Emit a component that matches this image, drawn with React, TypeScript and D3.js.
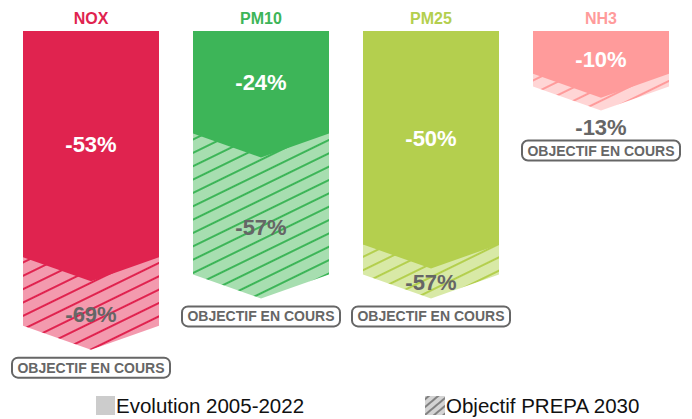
import { useEffect, useRef } from "react";
import * as d3 from "d3";

// données
const polluants = ["NOX", "PM10", "PM25", "NH3"];
const evolution = [-53, -24, -50, -10];
const objectif = [-69, -57, -57, -13];
const couleurs = ["#e0234f", "#3db558", "#b4cf4e", "#ff9b9b"];
const couleursClaires = ["#f39aae", "#a7deb0", "#d8e9a6", "#ffd5d5"];
const legende = ["Evolution 2005-2022", "Objectif PREPA 2030"];
const badge = "OBJECTIF EN COURS";

const W = 692;
const H = 419;
const FONT = "'Liberation Sans', Arial, sans-serif";

const App: React.FC = () => {
  const svgRef = useRef<SVGSVGElement | null>(null);

  useEffect(() => {
    if (!svgRef.current) return;
    const svg = d3.select(svgRef.current);
    svg.selectAll("*").remove();

    const top = 31;
    const pointe = 24;

    const x = d3
      .scaleBand<string>()
      .domain(polluants)
      .range([6, 686])
      .paddingInner(0.2)
      .paddingOuter(0.1);

    const y = d3.scaleLinear().domain([0, 100]).range([top, top + 427]);

    const defs = svg.append("defs");

    // motifs hachurés
    polluants.forEach((p, i) => {
      const pat = defs
        .append("pattern")
        .attr("id", `hatch-${i}`)
        .attr("patternUnits", "userSpaceOnUse")
        .attr("width", 12)
        .attr("height", 12)
        .attr("patternTransform", "rotate(-26)");
      pat.append("rect").attr("width", 12).attr("height", 12).attr("fill", couleursClaires[i]);
      pat
        .append("line")
        .attr("x1", 0)
        .attr("x2", 12)
        .attr("y1", 6)
        .attr("y2", 6)
        .attr("stroke", couleurs[i])
        .attr("stroke-width", 2);
    });

    const patLeg = defs
      .append("pattern")
      .attr("id", "hatch-leg")
      .attr("patternUnits", "userSpaceOnUse")
      .attr("width", 6)
      .attr("height", 6)
      .attr("patternTransform", "rotate(-40)");
    patLeg.append("rect").attr("width", 6).attr("height", 6).attr("fill", "#d4d4d4");
    patLeg
      .append("line")
      .attr("x1", 0)
      .attr("x2", 6)
      .attr("y1", 3)
      .attr("y2", 3)
      .attr("stroke", "#555")
      .attr("stroke-width", 1.3);

    const fleche = (x0: number, x1: number, bord: number) => {
      const cx = (x0 + x1) / 2;
      return `M${x0},${top}L${x1},${top}L${x1},${bord}L${cx},${bord + pointe}L${x0},${bord}Z`;
    };

    polluants.forEach((p, i) => {
      const x0 = x(p) as number;
      const x1 = x0 + x.bandwidth();
      const cx = (x0 + x1) / 2;
      const bordEvo = y(Math.abs(evolution[i]));
      const bordObj = y(Math.abs(objectif[i]));
      const g = svg.append("g");

      // titre
      g.append("text")
        .attr("x", cx)
        .attr("y", 24)
        .attr("text-anchor", "middle")
        .attr("font-family", FONT)
        .attr("font-weight", "bold")
        .attr("font-size", 16)
        .attr("fill", couleurs[i])
        .text(p);

      // objectif (hachuré)
      g.append("path").attr("d", fleche(x0, x1, bordObj)).attr("fill", `url(#hatch-${i})`);
      // évolution
      g.append("path").attr("d", fleche(x0, x1, bordEvo)).attr("fill", couleurs[i]);

      // valeur évolution
      const cEvo = Math.max((top + bordEvo) / 2, top + 28);
      g.append("text")
        .attr("x", cx)
        .attr("y", cEvo + 8)
        .attr("text-anchor", "middle")
        .attr("font-family", FONT)
        .attr("font-weight", "bold")
        .attr("font-size", 22)
        .attr("fill", "#fff")
        .text(`${evolution[i]}%`);

      // valeur objectif
      const tipEvo = bordEvo + pointe;
      const tipObj = bordObj + pointe;
      const dedans = tipObj - tipEvo >= 25;
      const cObj = dedans ? (tipEvo + tipObj) / 2 - 1 : tipObj + 16;
      g.append("text")
        .attr("x", cx)
        .attr("y", cObj + 8)
        .attr("text-anchor", "middle")
        .attr("font-family", FONT)
        .attr("font-weight", "bold")
        .attr("font-size", 22)
        .attr("fill", "#666")
        .text(`${objectif[i]}%`);

      // badge
      const bTop = dedans ? tipObj + 8 : cObj + 14;
      g.append("rect")
        .attr("x", cx - 79)
        .attr("y", bTop)
        .attr("width", 158)
        .attr("height", 20)
        .attr("rx", 6)
        .attr("fill", "#fff")
        .attr("stroke", "#666")
        .attr("stroke-width", 2);
      g.append("text")
        .attr("x", cx)
        .attr("y", bTop + 15)
        .attr("text-anchor", "middle")
        .attr("font-family", FONT)
        .attr("font-weight", "bold")
        .attr("font-size", 14)
        .attr("fill", "#666")
        .text(badge);
    });

    // légende
    const leg = svg.append("g");
    leg.append("rect").attr("x", 96).attr("y", 396).attr("width", 19).attr("height", 19).attr("fill", "#cccccc");
    leg
      .append("text")
      .attr("x", 116)
      .attr("y", 413)
      .attr("font-family", FONT)
      .attr("font-size", 20.5)
      .attr("fill", "#111")
      .text(legende[0]);
    leg.append("rect").attr("x", 425).attr("y", 396).attr("width", 20).attr("height", 19).attr("fill", "url(#hatch-leg)");
    leg
      .append("text")
      .attr("x", 446)
      .attr("y", 413)
      .attr("font-family", FONT)
      .attr("font-size", 20.5)
      .attr("fill", "#111")
      .text(legende[1]);
  }, []);

  return (
    <svg
      ref={svgRef}
      width={W}
      height={H}
      style={{ position: "absolute", left: 0, top: 0, background: "#fff" }}
    ></svg>
  );
};

export default App;
